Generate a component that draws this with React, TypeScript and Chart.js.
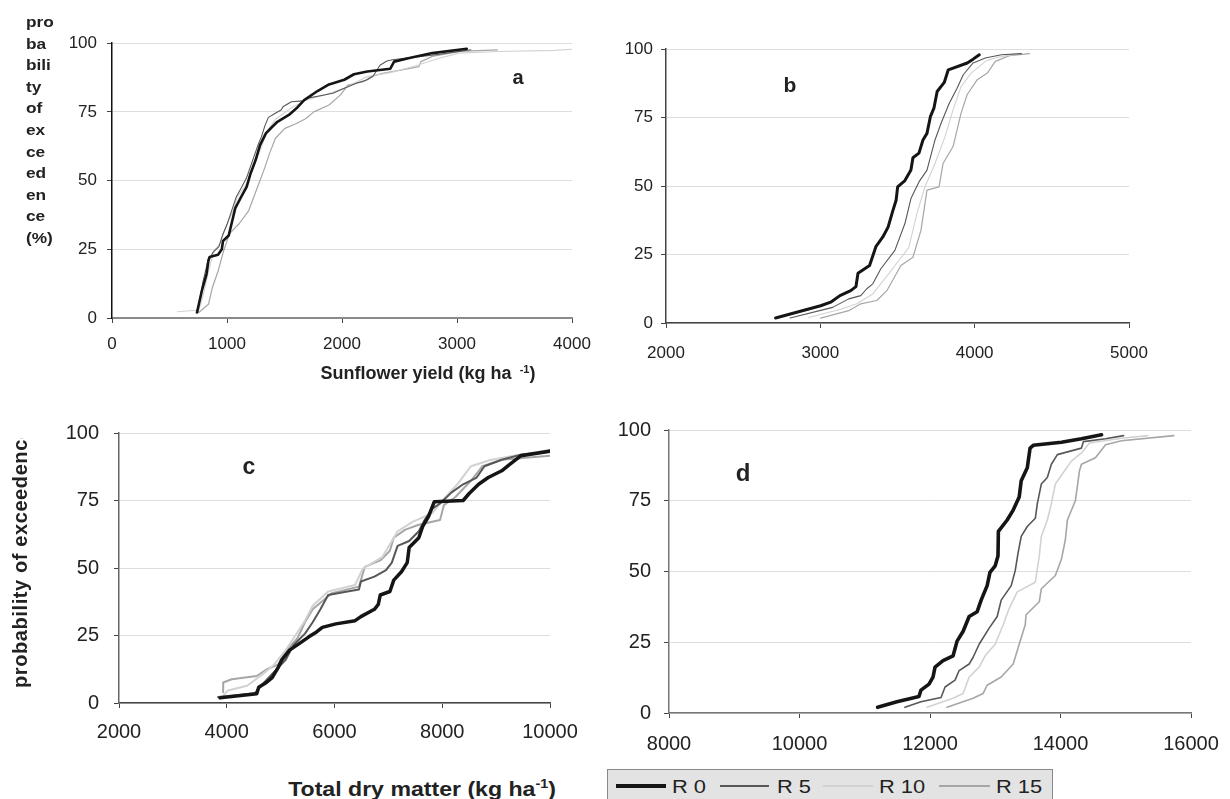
import React, { useEffect, useRef } from "react";
import { Chart, registerables } from "chart.js";

Chart.register(...registerables);

// ---------- shared ----------
const SERIES = ["R 0", "R 5", "R 10", "R 15"];
const Y_TICKS = [0, 25, 50, 75, 100];

// ---------- panel a : sunflower yield (kg/ha) ----------
const A_X_TICKS = [0, 1000, 2000, 3000, 4000];
const aR0X = [739, 755, 782, 822, 839, 849, 922, 955, 965, 1015, 1038, 1072, 1122, 1171, 1205, 1248, 1288, 1338, 1394, 1438, 1538, 1604, 1671, 1787, 1887, 2020, 2104, 2220, 2420, 2453, 2586, 2786, 3085];
const aR0Y = [2, 5, 10, 16, 21, 22.2, 23, 25, 28, 30, 34, 40, 44, 47.7, 52.6, 57.4, 63, 67.2, 69.6, 71.4, 73.9, 76.3, 79.3, 82.6, 85, 86.7, 88.7, 89.7, 90.7, 93.3, 94.6, 96.4, 98];
const aR5X = [745, 760, 790, 830, 880, 930, 960, 1000, 1040, 1080, 1120, 1170, 1220, 1270, 1300, 1330, 1360, 1420, 1470, 1490, 1560, 1660, 1700, 1800, 1920, 2020, 2130, 2220, 2270, 2330, 2390, 2440, 2560, 2690, 2850, 3020, 3120];
const aR5Y = [2, 6, 13, 20, 24, 26, 30, 34, 39, 44, 47, 51, 57, 63, 66, 70, 73, 74.5, 75.7, 77, 78.7, 79, 80, 80.8, 81.8, 83.6, 85.5, 86.7, 88, 92, 93.5, 94, 94.6, 95.2, 96, 97, 97.6];
const aR10X = [570, 755, 789, 839, 888, 938, 988, 1055, 1088, 1155, 1221, 1288, 1354, 1421, 1554, 1687, 1854, 2020, 2220, 2420, 2620, 2852, 3018, 3351, 3850, 4000];
const aR10Y = [2.3, 2.9, 7.5, 17, 24.6, 27, 33, 39, 44, 47.7, 53.8, 61, 68.4, 72.3, 76.3, 79.3, 81.2, 83.6, 87.9, 89.3, 91.5, 94.6, 96.4, 97, 97.4, 97.8];
const aR15X = [755, 839, 872, 922, 972, 1022, 1105, 1188, 1255, 1321, 1371, 1421, 1504, 1604, 1687, 1754, 1887, 1987, 2053, 2187, 2253, 2353, 2520, 2669, 2686, 2786, 3018, 3351];
const aR15Y = [2, 5, 11, 17, 24.6, 30.7, 34.3, 39, 46.5, 53.8, 60, 65.4, 69, 70.8, 72.6, 75, 77.5, 81.2, 84.8, 86, 87.9, 89, 90.3, 91.5, 93.3, 95.2, 97, 97.6];

// ---------- panel b ----------
const B_X_TICKS = [2000, 3000, 4000, 5000];
const bR0X = [2710, 3002, 3067, 3127, 3197, 3231, 3244, 3319, 3361, 3405, 3439, 3470, 3491, 3501, 3548, 3587, 3600, 3639, 3665, 3691, 3713, 3736, 3757, 3803, 3829, 3952, 3990, 4030];
const bR0Y = [1.8, 6.3, 7.6, 10, 11.8, 13.3, 18.2, 21, 28, 31.4, 35, 41, 44.8, 49.7, 52, 55.8, 60.3, 62, 66.8, 69.2, 75.3, 78.4, 84.5, 87.8, 92.4, 94.9, 96.3, 97.9];
const bR5X = [2804, 3080, 3184, 3262, 3301, 3340, 3392, 3483, 3548, 3587, 3639, 3691, 3743, 3783, 3834, 3886, 3926, 3990, 4069, 4173, 4303];
const bR5Y = [1.8, 5.7, 8.8, 10, 12.5, 14.3, 19.8, 26.5, 36.3, 45.4, 51.5, 55.8, 66.8, 73, 80, 85.7, 90.6, 94.9, 96.7, 97.9, 98.3];
const bR10X = [2924, 3132, 3236, 3340, 3444, 3509, 3574, 3626, 3678, 3743, 3808, 3860, 3912, 3977, 4069, 4147, 4290];
const bR10Y = [2, 5, 7, 10.6, 18, 22.8, 27.7, 40, 49.7, 58.2, 68, 77.8, 86.3, 91.2, 95.5, 97, 98.3];
const bR15X = [3002, 3184, 3262, 3366, 3431, 3522, 3600, 3652, 3691, 3769, 3795, 3860, 3912, 3951, 4017, 4082, 4134, 4225, 4355];
const bR15Y = [1.8, 4.5, 7, 8.2, 11.8, 21, 24, 33.8, 48.5, 49.7, 58.2, 64.4, 76.6, 83.3, 88.8, 91.2, 95.5, 97.6, 98.3];

// ---------- panel c : total dry matter (kg/ha) ----------
const C_X_TICKS = [2000, 4000, 6000, 8000, 10000];
const cR0X = [3876, 4557, 4593, 4736, 4843, 4879, 4951, 5022, 5166, 5345, 5524, 5667, 5774, 6025, 6383, 6490, 6741, 6813, 6849, 7028, 7100, 7243, 7350, 7386, 7565, 7637, 7744, 7851, 8388, 8495, 8675, 8854, 9104, 9247, 9462, 10035];
const cR0Y = [1.9, 3.4, 5.8, 7.6, 9.4, 10.6, 13, 16, 19.6, 22, 24.5, 26.3, 28, 29.3, 30.5, 32, 34.7, 36.5, 40, 41.3, 45.5, 48.6, 52, 57.6, 61.2, 65.4, 69, 74.5, 75, 77.5, 81, 83.5, 86, 88.3, 91.6, 93.4];
const cR5X = [3840, 4521, 4664, 4808, 4951, 5094, 5237, 5452, 5595, 5739, 5882, 6240, 6454, 6490, 6741, 6956, 7064, 7171, 7386, 7565, 7672, 7816, 7959, 8174, 8388, 8639, 8783, 9104, 9462, 10035];
const cR5Y = [2.2, 3.6, 7, 10, 13, 16, 21.4, 25.7, 29.9, 34.7, 40, 41.3, 42, 45, 46.8, 49.2, 52, 58.2, 60, 63.6, 67.8, 72, 73.9, 78, 81, 83.5, 87.7, 90.1, 92, 93.1];
const cR10X = [3912, 4020, 4378, 4664, 4879, 5094, 5273, 5452, 5595, 5882, 6383, 6526, 6884, 7028, 7171, 7458, 7816, 8031, 8281, 8532, 8890, 9462, 10035];
const cR10Y = [2.2, 4.6, 6.4, 10.6, 14.2, 19.6, 25, 30.5, 36, 41.3, 43.7, 49.8, 54, 58.8, 63.6, 67.2, 70.3, 75.7, 81, 87.7, 90, 92, 93.8];
const cR15X = [3934, 3934, 4091, 4557, 4736, 4951, 5094, 5309, 5452, 5595, 5810, 5953, 6454, 6562, 6849, 7028, 7100, 7315, 7565, 7959, 8031, 8245, 8532, 8747, 9104, 10035];
const cR15Y = [4, 7.6, 8.8, 10, 12.4, 14.2, 19, 23.9, 29.9, 34.7, 38.3, 40.7, 43.1, 50.4, 52.8, 56.4, 61.2, 64.2, 66, 67.8, 73.3, 76.3, 82.3, 87.7, 90.1, 91.6];

// ---------- panel d ----------
const D_X_TICKS = [8000, 10000, 12000, 14000, 16000];
const dR0X = [11197, 11493, 11831, 11862, 11985, 12046, 12077, 12200, 12354, 12415, 12508, 12600, 12723, 12784, 12876, 12919, 12999, 13042, 13048, 13183, 13275, 13367, 13398, 13491, 13534, 13583, 14014, 14321, 14629];
const dR0Y = [2, 4, 5.8, 8.1, 10.2, 12.7, 16.2, 18.5, 20.2, 25.4, 28.9, 34.1, 35.8, 39.9, 45, 49.7, 52, 55.5, 64.2, 68.2, 71.7, 76.3, 82.1, 86.7, 93.6, 94.6, 95.7, 96.9, 98.3];
const dR5X = [11616, 11862, 12169, 12231, 12384, 12446, 12600, 12661, 12753, 12907, 13030, 13091, 13245, 13306, 13350, 13398, 13491, 13614, 13645, 13706, 13798, 13860, 13952, 14321, 14352, 14690, 14967];
const dR5Y = [2, 4, 5.5, 9.2, 11.6, 15, 17.3, 19.7, 24.3, 30, 34.1, 39.9, 45, 50.3, 56.6, 62.4, 65.9, 68.8, 74, 80.9, 83.2, 87.9, 91.3, 93.6, 95.9, 96.9, 98];
const dR10X = [11954, 12354, 12508, 12600, 12753, 12845, 12999, 13122, 13214, 13337, 13614, 13675, 13706, 13798, 13860, 13921, 14044, 14167, 14321, 14444, 14936, 15336];
const dR10Y = [2, 5.2, 6.9, 12.7, 16.2, 20.2, 24.3, 31.2, 37, 42.8, 46.2, 55.5, 62.4, 68.2, 74, 80.9, 85, 89, 91.9, 95.4, 97.1, 98];
const dR15X = [12261, 12661, 12815, 12876, 13091, 13275, 13367, 13460, 13472, 13675, 13706, 13921, 14014, 14075, 14106, 14229, 14290, 14321, 14536, 14690, 14936, 15736];
const dR15Y = [2, 5.2, 6.9, 9.8, 12.7, 17.3, 24.3, 31.2, 34.7, 39.3, 43.9, 48.6, 54.3, 61.3, 68.2, 75.1, 85.5, 87.9, 90.2, 94.8, 96.2, 98];

// ---------- styling ----------
const COLORS = ["#151515", "#575757", "#d2d2d2", "#a6a6a6"];
const FONT = "'Liberation Sans', Arial, Helvetica, sans-serif";

type Frame = { left: number; top: number; right: number; bottom: number };
type Spec = {
  frame: Frame;
  xTicks: number[];
  xs: number[][];
  ys: number[][];
  widths: number[];
  font: number;
  xPad: number;
  yPad: number;
  xBorder: string;
  xBorderW: number;
  yBorder: string;
  yBorderW: number;
};

const PL = 90, PT = 20, PR = 50, PB = 70;

function Panel({ spec }: { spec: Spec }) {
  const ref = useRef<HTMLCanvasElement>(null);
  const { frame } = spec;
  const w = frame.right - frame.left + PL + PR;
  const h = frame.bottom - frame.top + PT + PB;
  useEffect(() => {
    const chart = new Chart(ref.current as HTMLCanvasElement, {
      type: "scatter",
      data: {
        datasets: SERIES.map((name, i) => ({
          label: name,
          data: spec.xs[i].map((x, j) => ({ x, y: spec.ys[i][j] })),
          showLine: true,
          borderColor: COLORS[i],
          backgroundColor: COLORS[i],
          borderWidth: spec.widths[i],
          pointRadius: 0,
          pointHoverRadius: 0,
          tension: 0,
          borderJoinStyle: "round" as const,
          borderCapStyle: "round" as const,
        })),
      },
      options: {
        responsive: false,
        animation: false,
        devicePixelRatio: 1,
        events: [],
        layout: { padding: { left: 0, top: PT, right: PR, bottom: 0 } },
        plugins: { legend: { display: false }, tooltip: { enabled: false } },
        scales: {
          x: {
            type: "linear",
            min: spec.xTicks[0],
            max: spec.xTicks[spec.xTicks.length - 1],
            afterBuildTicks: (s: any) => {
              s.ticks = spec.xTicks.map((v) => ({ value: v }));
            },
            ticks: {
              color: "#222",
              font: { family: FONT, size: spec.font },
              padding: spec.xPad,
              maxRotation: 0,
              autoSkip: false,
              callback: (v: any) => String(v),
            },
            grid: { drawOnChartArea: false, tickLength: 5, tickColor: "#444", tickWidth: 1 },
            border: { color: spec.xBorder, width: spec.xBorderW },
            afterFit: (s: any) => {
              s.height = PB;
            },
          },
          y: {
            type: "linear",
            min: 0,
            max: 100,
            afterBuildTicks: (s: any) => {
              s.ticks = Y_TICKS.map((v) => ({ value: v }));
            },
            ticks: {
              color: "#222",
              font: { family: FONT, size: spec.font },
              padding: spec.yPad,
              callback: (v: any) => String(v),
            },
            grid: { color: "#dedede", lineWidth: 1, tickLength: 5, tickColor: "#444", tickWidth: 1 },
            border: { color: spec.yBorder, width: spec.yBorderW },
            afterFit: (s: any) => {
              s.width = PL;
            },
          },
        },
      },
    } as any);
    return () => chart.destroy();
  }, []);
  return (
    <canvas
      ref={ref}
      width={w}
      height={h}
      style={{ position: "absolute", left: frame.left - PL, top: frame.top - PT, width: w, height: h }}
    />
  );
}

const SPECS: Spec[] = [
  {
    frame: { left: 112, top: 43, right: 572, bottom: 318 },
    xTicks: A_X_TICKS,
    xs: [aR0X, aR5X, aR10X, aR15X],
    ys: [aR0Y, aR5Y, aR10Y, aR15Y],
    widths: [2.6, 1.1, 1.1, 1.2],
    font: 17,
    xPad: 11,
    yPad: 10,
    xBorder: "#8a8a8a",
    xBorderW: 2,
    yBorder: "#111",
    yBorderW: 1.5,
  },
  {
    frame: { left: 666, top: 49, right: 1129, bottom: 323 },
    xTicks: B_X_TICKS,
    xs: [bR0X, bR5X, bR10X, bR15X],
    ys: [bR0Y, bR5Y, bR10Y, bR15Y],
    widths: [3, 1.1, 1.1, 1.2],
    font: 17,
    xPad: 15,
    yPad: 8,
    xBorder: "#444",
    xBorderW: 1.5,
    yBorder: "#444",
    yBorderW: 1.5,
  },
  {
    frame: { left: 119, top: 426, right: 550, bottom: 703 },
    xTicks: C_X_TICKS,
    xs: [cR0X, cR5X, cR10X, cR15X],
    ys: [cR0Y, cR5Y, cR10Y, cR15Y],
    widths: [3.5, 2, 2, 2],
    font: 20,
    xPad: 12,
    yPad: 15,
    xBorder: "#444",
    xBorderW: 1.5,
    yBorder: "#666",
    yBorderW: 1.5,
  },
  {
    frame: { left: 669, top: 425, right: 1191, bottom: 713 },
    xTicks: D_X_TICKS,
    xs: [dR0X, dR5X, dR10X, dR15X],
    ys: [dR0Y, dR5Y, dR10Y, dR15Y],
    widths: [3.6, 1.6, 1.6, 1.6],
    font: 20,
    xPad: 14,
    yPad: 13,
    xBorder: "#777",
    xBorderW: 1.5,
    yBorder: "#777",
    yBorderW: 1.5,
  },
];

function Text({ x, y, size, bold, children, sx }: any) {
  return (
    <div
      style={{
        position: "absolute",
        left: x,
        top: y,
        transform: `translate(-50%, -50%) scaleX(${sx || 1})`,
        font: `${bold ? "bold " : ""}${size}px ${FONT}`,
        color: "#222",
        whiteSpace: "nowrap",
        lineHeight: 1,
      }}
    >
      {children}
    </div>
  );
}

const A_TITLE_LINES = ["pro", "ba", "bili", "ty", "of", "ex", "ce", "ed", "en", "ce", "(%)"];

const LEGEND_LINES = [
  { x1: 616, x2: 666, tx: 672 },
  { x1: 720, x2: 769, tx: 777 },
  { x1: 823, x2: 873, tx: 879 },
  { x1: 939, x2: 990, tx: 996 },
];
const LEGEND_W = [4, 1.5, 1.5, 2];

export default function App() {
  return (
    <div
      style={{
        position: "absolute",
        left: 0,
        top: 0,
        width: 1230,
        height: 799,
        overflow: "hidden",
        background: "#fff",
        fontFamily: FONT,
      }}
    >
      {SPECS.map((s, i) => (
        <Panel key={i} spec={s} />
      ))}

      {/* panel a y title (wrapped) */}
      <div
        style={{
          position: "absolute",
          left: 26,
          top: 11,
          font: `bold 15px ${FONT}`,
          lineHeight: "21.6px",
          color: "#222",
          transform: "scaleX(1.15)",
          transformOrigin: "left top",
        }}
      >
        {A_TITLE_LINES.map((l, i) => (
          <div key={i}>{l}</div>
        ))}
      </div>

      {/* panel c y title (rotated, clipped at top) */}
      <div style={{ position: "absolute", left: 0, top: 438, width: 45, height: 270, overflow: "hidden" }}>
        <div
          style={{
            position: "absolute",
            left: 9,
            top: 250,
            transform: "rotate(-90deg)",
            transformOrigin: "left top",
            font: `bold 20px ${FONT}`,
            letterSpacing: "0.6px",
            lineHeight: "22px",
            color: "#222",
            whiteSpace: "nowrap",
          }}
        >
          probability of exceedence
        </div>
      </div>

      {/* axis titles */}
      <Text x={428} y={373} size={18} bold>
        Sunflower yield (kg ha<span style={{ display: "inline-block", width: 8 }} />
        <sup style={{ fontSize: 11, verticalAlign: 6 }}>-1</sup>)
      </Text>
      <Text x={422} y={788} size={21} bold sx={1.1}>
        Total dry matter (kg ha<sup style={{ fontSize: 13, verticalAlign: 8 }}>-1</sup>)
      </Text>

      {/* panel letters */}
      <Text x={518} y={77} size={20} bold>a</Text>
      <Text x={790} y={84} size={21} bold>b</Text>
      <Text x={249} y={466} size={23} bold>c</Text>
      <Text x={743} y={473} size={24} bold>d</Text>

      {/* legend */}
      <div
        style={{
          position: "absolute",
          left: 607,
          top: 769,
          width: 446,
          height: 40,
          background: "#e3e3e3",
          border: "1px solid #8a8a8a",
          boxSizing: "border-box",
        }}
      />
      {SERIES.map((name, i) => (
        <React.Fragment key={name}>
          <div
            style={{
              position: "absolute",
              left: LEGEND_LINES[i].x1,
              top: 786 - LEGEND_W[i] / 2,
              width: LEGEND_LINES[i].x2 - LEGEND_LINES[i].x1,
              height: LEGEND_W[i],
              background: COLORS[i],
            }}
          />
          <div
            style={{
              position: "absolute",
              left: LEGEND_LINES[i].tx,
              top: 786,
              transform: "translateY(-50%) scaleX(1.15)",
              transformOrigin: "left center",
              font: `19px ${FONT}`,
              color: "#222",
              lineHeight: 1,
              whiteSpace: "nowrap",
            }}
          >
            {name}
          </div>
        </React.Fragment>
      ))}
    </div>
  );
}
